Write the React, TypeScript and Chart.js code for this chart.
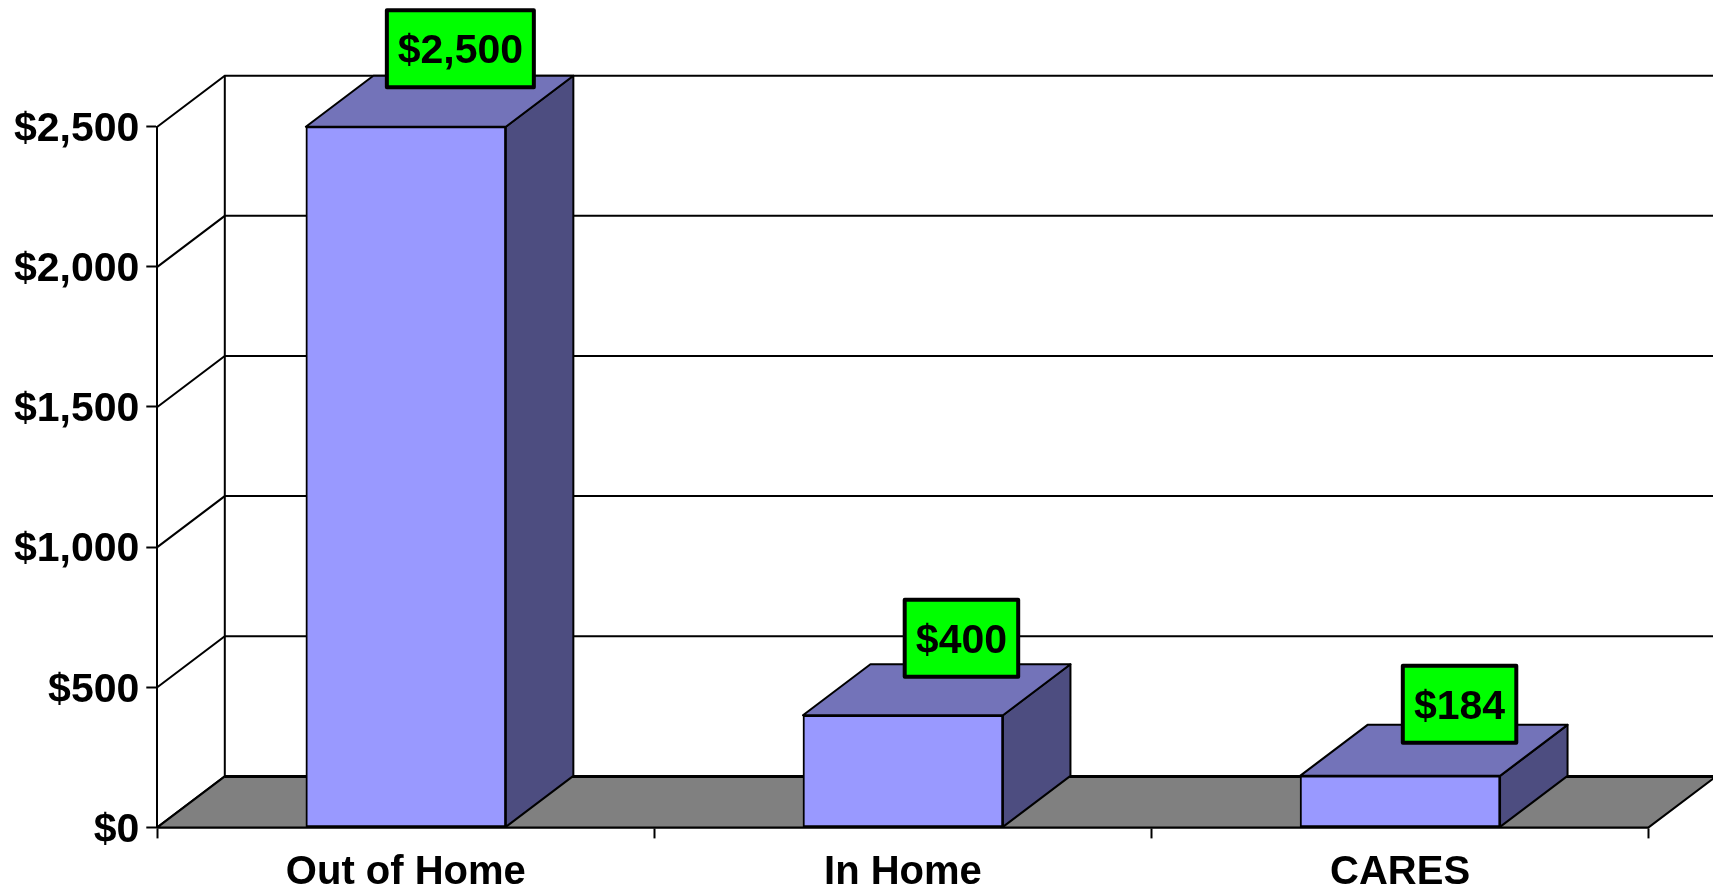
import React, { useEffect, useRef } from "react";
import { Chart, registerables } from "chart.js";

Chart.register(...registerables);

const categories = ["Out of Home", "In Home", "CARES"];
const values = [2500, 400, 184];
const axisMax = 2500;
const axisStep = 500;

const W = 1713;
const H = 889;
const FONT = '"Liberation Sans", Arial, sans-serif';
const depthX = 67.5;
const depthY = 51;
const labelOffsetX = [54.5, 58.5, 59.5];
const labelOffsetY = [-78, -77, -71.5];
const labelW = [147, 113.5, 113.5];
const labelH = 77;

const money = (v: number) => "$" + Number(v).toLocaleString("en-US");

const poly = (ctx: any, pts: number[][], fill: string | null, lw = 2) => {
  ctx.beginPath();
  pts.forEach((p, i) => (i ? ctx.lineTo(p[0], p[1]) : ctx.moveTo(p[0], p[1])));
  ctx.closePath();
  if (fill) {
    ctx.fillStyle = fill;
    ctx.fill();
  }
  ctx.lineWidth = lw;
  ctx.strokeStyle = "#000";
  ctx.lineJoin = "round";
  ctx.stroke();
};

const walls = {
  id: "walls",
  beforeDatasetsDraw(chart: any) {
    const { ctx, scales } = chart;
    const xs = scales.x;
    const ys = scales.y;
    ctx.save();
    ctx.strokeStyle = "#000";
    ctx.lineWidth = 2;
    for (const t of ys.ticks) {
      const y = ys.getPixelForValue(t.value);
      ctx.beginPath();
      ctx.moveTo(xs.left, y);
      ctx.lineTo(xs.left + depthX, y - depthY);
      if (t.value > 0) ctx.lineTo(W + 5, y - depthY);
      ctx.stroke();
    }
    ctx.beginPath();
    ctx.moveTo(xs.left + depthX, ys.top - depthY);
    ctx.lineTo(xs.left + depthX, ys.bottom - depthY);
    ctx.stroke();
    poly(
      ctx,
      [
        [xs.left, ys.bottom],
        [xs.right, ys.bottom],
        [xs.right + depthX, ys.bottom - depthY],
        [xs.left + depthX, ys.bottom - depthY],
      ],
      "#808080"
    );
    ctx.beginPath();
    ctx.lineWidth = 3;
    ctx.moveTo(xs.left + depthX, ys.bottom - depthY);
    ctx.lineTo(W + 5, ys.bottom - depthY);
    ctx.stroke();
    ctx.restore();
  },
};

const bars3d = {
  id: "bars3d",
  afterDatasetsDraw(chart: any) {
    const { ctx } = chart;
    const meta = chart.getDatasetMeta(0);
    ctx.save();
    meta.data.forEach((bar: any) => {
      const l = bar.x - bar.width / 2;
      const r = bar.x + bar.width / 2;
      poly(
        ctx,
        [
          [r, bar.y],
          [r + depthX, bar.y - depthY],
          [r + depthX, bar.base - depthY],
          [r, bar.base],
        ],
        "#4D4D80"
      );
      poly(
        ctx,
        [
          [l, bar.y],
          [l + depthX, bar.y - depthY],
          [r + depthX, bar.y - depthY],
          [r, bar.y],
        ],
        "#7373B9"
      );
    });
    meta.data.forEach((bar: any, i: number) => {
      const cx = bar.x + labelOffsetX[i];
      const cy = bar.y + labelOffsetY[i];
      const w = labelW[i];
      ctx.fillStyle = "#00FF00";
      ctx.fillRect(cx - w / 2, cy - labelH / 2, w, labelH);
      ctx.lineWidth = 4;
      ctx.strokeStyle = "#000";
      ctx.lineJoin = "round";
      ctx.strokeRect(cx - w / 2, cy - labelH / 2, w, labelH);
      ctx.fillStyle = "#000";
      ctx.font = `bold 41px ${FONT}`;
      ctx.textAlign = "center";
      ctx.textBaseline = "middle";
      ctx.fillText(money(values[i]), cx, cy + 3);
    });
    ctx.restore();
  },
};

export default function App() {
  const ref = useRef<HTMLCanvasElement>(null);
  useEffect(() => {
    document.body.style.margin = "0";
    document.body.style.background = "#fff";
    const chart = new Chart(ref.current as HTMLCanvasElement, {
      type: "bar",
      data: {
        labels: categories,
        datasets: [
          {
            data: values,
            backgroundColor: "#9999FF",
            borderColor: "#000",
            borderWidth: 2,
            borderSkipped: false,
            barThickness: 200,
          },
        ],
      },
      options: {
        animation: false,
        responsive: false,
        devicePixelRatio: 1,
        layout: { padding: { top: 126.7, right: W - 1648.6, left: 0, bottom: 0 } },
        plugins: { legend: { display: false }, tooltip: { enabled: false } },
        scales: {
          x: {
            afterFit: (s: any) => {
              s.height = H - 827.4;
            },
            grid: {
              offset: true,
              drawOnChartArea: false,
              tickLength: 11,
              tickColor: "#000",
              tickWidth: 2,
            },
            border: { color: "#000", width: 2.5 },
            ticks: {
              color: "#000",
              padding: 11,
              maxRotation: 0,
              font: { family: FONT, size: 40, weight: "bold" },
            },
          },
          y: {
            min: 0,
            max: axisMax,
            afterFit: (s: any) => {
              s.width = 157.3;
            },
            grid: {
              drawOnChartArea: false,
              tickLength: 11,
              tickColor: "#000",
              tickWidth: 2,
            },
            border: { color: "#000", width: 2 },
            ticks: {
              stepSize: axisStep,
              color: "#000",
              padding: 7,
              labelOffset: 3,
              font: { family: FONT, size: 41, weight: "bold" },
              callback: (v: any) => money(v),
            },
          },
        },
      },
      plugins: [walls, bars3d],
    } as any);
    return () => chart.destroy();
  }, []);
  return (
    <div style={{ width: W, height: H, overflow: "hidden", background: "#fff" }}>
      <canvas ref={ref} width={W} height={H} style={{ display: "block" }} />
    </div>
  );
}
